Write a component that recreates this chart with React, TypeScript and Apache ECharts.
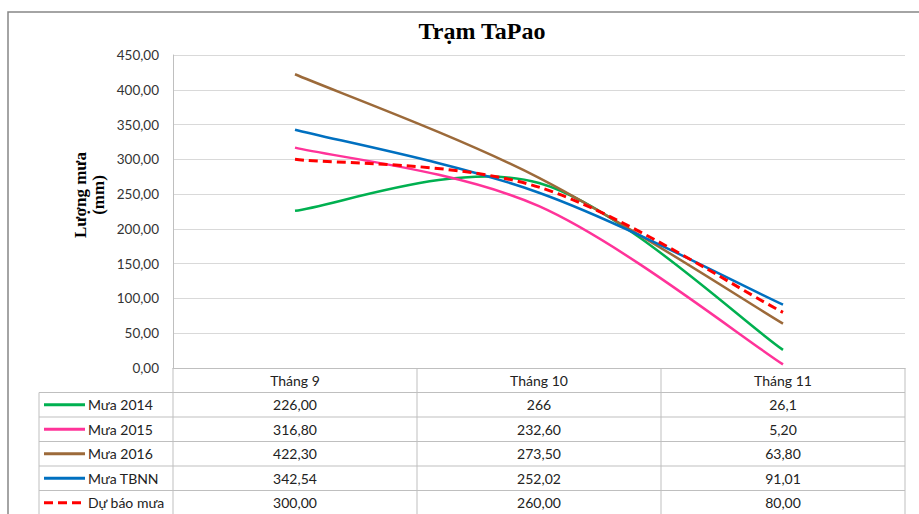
import React, { useEffect, useRef } from "react";
import * as echarts from "echarts";

const categories = ["Tháng 9", "Tháng 10", "Tháng 11"];
const seriesNames = ["Mưa 2014", "Mưa 2015", "Mưa 2016", "Mưa TBNN", "Dự báo mưa"];
// table cell texts as printed in the reference; numbers are parsed from them
const mua2014 = ["226,00", "266", "26,1"];
const mua2015 = ["316,80", "232,60", "5,20"];
const mua2016 = ["422,30", "273,50", "63,80"];
const muaTBNN = ["342,54", "252,02", "91,01"];
const duBao = ["300,00", "260,00", "80,00"];
const yTicks = { min: 0, max: 450, interval: 50 };

const seriesTexts = [mua2014, mua2015, mua2016, muaTBNN, duBao];
const colors = ["#00B050", "#FF3399", "#9C6A3A", "#0070C0", "#FF0000"];
const toNum = (s: string) => parseFloat(s.replace(",", "."));

// Excel-like smoothed path (Catmull-Rom, tension 1/6) through pixel points
function smoothPath(pts: number[][]): string {
  const n = pts.length;
  const P = (i: number) => pts[Math.max(0, Math.min(n - 1, i))];
  let d = `M${pts[0][0]},${pts[0][1]}`;
  for (let i = 0; i < n - 1; i++) {
    const p0 = P(i - 1), p1 = P(i), p2 = P(i + 1), p3 = P(i + 2);
    const c1x = p1[0] + (p2[0] - p0[0]) / 6;
    const c1y = p1[1] + (p2[1] - p0[1]) / 6;
    const c2x = p2[0] - (p3[0] - p1[0]) / 6;
    const c2y = p2[1] - (p3[1] - p1[1]) / 6;
    d += ` C${c1x},${c1y} ${c2x},${c2y} ${p2[0]},${p2[1]}`;
  }
  return d;
}

export default function App() {
  const ref = useRef<HTMLDivElement>(null);
  useEffect(() => {
    if (!ref.current) return;
    const chart = echarts.init(ref.current, undefined, { renderer: "svg" });
    const W = 919;
    const gridL = 173, gridT = 55, gridR = 905, gridB = 368;
    const legL = 39;
    const colW = (gridR - gridL) / categories.length;
    const hdrB = 392.5;
    const rowH = 24.5;
    const bottom = 520;
    const lineColor = "#BFBFBF";
    const font = "Lato";
    const g: any[] = [];
    // outer border
    g.push({ type: "rect", shape: { x: 8, y: 12, width: 1000, height: 600 }, style: { fill: "none", stroke: "#868686", lineWidth: 1.5 }, silent: true });
    // title
    g.push({ type: "text", x: 482, y: 31, style: { text: "Trạm TaPao", font: "bold 24px 'Liberation Serif'", fill: "#000", align: "center", verticalAlign: "middle" } });
    // y axis name
    g.push({ type: "text", x: 89, y: 195, rotation: Math.PI / 2, style: { text: "Lượng mưa\n(mm)", font: "bold 17px 'Liberation Serif'", fill: "#000", align: "center", verticalAlign: "middle", lineHeight: 18 } });
    // table lines
    const hl = (x1: number, x2: number, y: number) => g.push({ type: "line", shape: { x1, y1: y, x2, y2: y }, style: { stroke: lineColor, lineWidth: 1 }, silent: true });
    const vl = (x: number, y1: number, y2: number) => g.push({ type: "line", shape: { x1: x, y1, x2: x, y2 }, style: { stroke: lineColor, lineWidth: 1 }, silent: true });
    for (let i = 0; i <= seriesNames.length; i++) hl(legL, gridR, hdrB + i * rowH);
    vl(legL, hdrB, bottom);
    vl(gridL, gridB, bottom);
    for (let c = 1; c <= categories.length; c++) vl(gridL + c * colW, gridB, bottom);
    // header
    categories.forEach((c, j) => {
      g.push({ type: "text", x: gridL + colW * (j + 0.5), y: (gridB + hdrB) / 2 + 0.5, style: { text: c, font: `14px ${font}`, fill: "#222", align: "center", verticalAlign: "middle" } });
    });
    // rows
    seriesNames.forEach((name, i) => {
      const cy = hdrB + rowH * (i + 0.5);
      g.push({ type: "line", shape: { x1: 44, y1: cy, x2: 85, y2: cy }, style: { stroke: colors[i], lineWidth: 3, lineDash: i === 4 ? [9, 5] : undefined }, silent: true });
      g.push({ type: "text", x: 88, y: cy, style: { text: name, font: `14px ${font}`, fill: "#222", align: "left", verticalAlign: "middle" } });
      seriesTexts[i].forEach((t, j) => {
        g.push({ type: "text", x: gridL + colW * (j + 0.5), y: cy, style: { text: t, font: `14px ${font}`, fill: "#222", align: "center", verticalAlign: "middle" } });
      });
    });

    chart.setOption({
      animation: false,
      backgroundColor: "#fff",
      grid: { left: gridL, top: gridT, right: W - gridR, bottom: 514 - gridB, containLabel: false, outerBoundsMode: "none" },
      xAxis: {
        type: "category",
        data: categories,
        boundaryGap: true,
        axisLine: { show: true, lineStyle: { color: lineColor, width: 1 } },
        axisTick: { show: false },
        axisLabel: { show: false },
        splitLine: { show: false },
      },
      yAxis: {
        type: "value",
        min: yTicks.min,
        max: yTicks.max,
        interval: yTicks.interval,
        axisLine: { show: true, lineStyle: { color: lineColor, width: 1 } },
        axisTick: { show: false },
        axisLabel: {
          margin: 14,
          fontFamily: font,
          fontSize: 13.5,
          color: "#333",
          formatter: (v: number) => v.toFixed(2).replace(".", ","),
        },
        splitLine: { show: true, lineStyle: { color: "#D9D9D9", width: 1 } },
      },
      series: seriesNames.map((name, i) => {
        const vals = seriesTexts[i].map(toNum);
        return {
          name,
          type: "custom",
          data: vals.map((v, j) => [j, v]),
          encode: { x: 0, y: 1 },
          clip: false,
          z: i === 4 ? 10 : 2,
          renderItem: (params: any, api: any) => {
            if (params.dataIndex !== 0) return null;
            const pts = vals.map((v, j) => api.coord([j, v]));
            return {
              type: "path",
              shape: { pathData: smoothPath(pts) },
              style: {
                fill: "none",
                stroke: colors[i],
                lineWidth: i === 4 ? 3 : 2.5,
                lineDash: i === 4 ? [9, 5] : null,
              },
            };
          },
        };
      }),
      graphic: g,
    });
    return () => chart.dispose();
  }, []);
  return <div ref={ref} style={{ position: "fixed", left: 0, top: 0, width: 919, height: 514 }} />;
}
